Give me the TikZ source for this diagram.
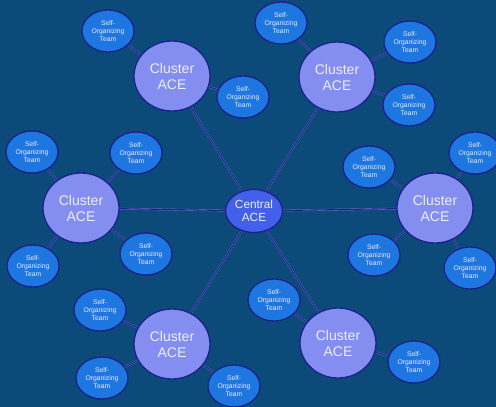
\documentclass[tikz,border=0pt]{standalone}
\usepackage{fontspec}
\setmainfont{Liberation Sans}
\usetikzlibrary{shapes.geometric}
\definecolor{bgblue}{RGB}{12,74,122}
\definecolor{rim}{RGB}{28,34,140}
\definecolor{clusterfill}{RGB}{132,142,240}
\definecolor{centralfill}{RGB}{66,96,234}
\definecolor{teamfill}{RGB}{30,118,224}
\definecolor{txt}{RGB}{236,238,248}
\definecolor{linkedge}{RGB}{110,125,200}
\begin{document}
\begin{tikzpicture}[x=1pt,y=-1pt,
  bubble/.style={ellipse,draw=rim,line width=1.3pt,inner sep=0pt,text=txt,align=center},
  clusterbox/.style={bubble,fill=clusterfill,minimum width=76pt,minimum height=70pt,
    font=\fontsize{14}{16}\selectfont},
  centralbox/.style={bubble,fill=centralfill,minimum width=57pt,minimum height=43pt,
    font=\fontsize{11.8}{13.5}\selectfont},
  teambox/.style={bubble,fill=teamfill,minimum width=52pt,minimum height=42pt,
    font=\fontsize{6.8}{8}\selectfont},
  link/.style={draw=linkedge,line width=1.8pt,
    postaction={draw=rim,line width=1.1pt}}]
\fill[bgblue] (0,0) rectangle (496,407);
\useasboundingbox (0,0) rectangle (496,407);

% hub and cluster positions
\coordinate (c0) at (254,211);
\coordinate (c1) at (172,76);
\coordinate (c2) at (337,77);
\coordinate (c3) at (81,208);
\coordinate (c4) at (435,208);
\coordinate (c5) at (172,344);
\coordinate (c6) at (338,343);

% team positions
\coordinate (t11) at (108,31);
\coordinate (t12) at (243,97);
\coordinate (t21) at (281,23);
\coordinate (t22) at (410,42);
\coordinate (t23) at (409,105);
\coordinate (t31) at (32,152);
\coordinate (t32) at (136,153);
\coordinate (t33) at (33,266);
\coordinate (t34) at (146,254);
\coordinate (t41) at (369,167);
\coordinate (t42) at (475,153);
\coordinate (t43) at (374,255);
\coordinate (t44) at (470,268);
\coordinate (t51) at (100,310);
\coordinate (t52) at (102,378);
\coordinate (t53) at (234,386);
\coordinate (t61) at (274,300);
\coordinate (t62) at (414,362);

% connectors, drawn first so the bubbles cover their ends
\foreach \c in {c1,c2,c3,c4,c5,c6}
  \path[link] (c0) -- (\c);
\foreach \c/\t in {c1/t11,c1/t12,c2/t21,c2/t22,c2/t23,
                   c3/t31,c3/t32,c3/t33,c3/t34,
                   c4/t41,c4/t42,c4/t43,c4/t44,
                   c5/t51,c5/t52,c5/t53,c6/t61,c6/t62}
  \path[link] (\c) -- (\t);

% bubbles
\node[centralbox] (central) at (c0) {Central\\ACE};
\foreach \c in {c1,c2,c3,c4,c5,c6}
  \node[clusterbox] (n\c) at (\c) {Cluster\\ACE};
\foreach \t in {t11,t12,t21,t22,t23,t31,t32,t33,t34,
                t41,t42,t43,t44,t51,t52,t53,t61,t62}
  \node[teambox] (n\t) at (\t) {Self-\\Organizing\\Team};
\end{tikzpicture}
\end{document}
